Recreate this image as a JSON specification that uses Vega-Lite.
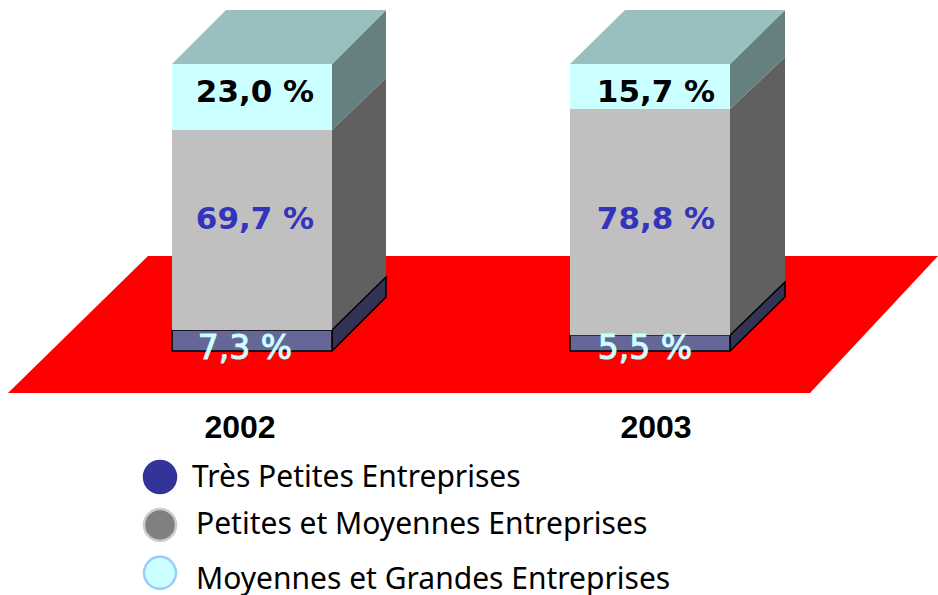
{
"$schema":"https://vega.github.io/schema/vega-lite/v6.json",
"width":938,"height":595,"padding":0,"autosize":{"type":"none"},
"background":"white",
"config":{"view":{"stroke":null}},
"datasets":{
"segments":[
{"year":"2002","category":"Très Petites Entreprises","order":1,"value":7.3,"label":"7,3 %","labelAt":0.8,"left":172,"right":332,"center":245},
{"year":"2002","category":"Petites et Moyennes Entreprises","order":2,"value":69.7,"label":"69,7 %","labelAt":45.5,"left":172,"right":332,"center":255},
{"year":"2002","category":"Moyennes et Grandes Entreprises","order":3,"value":23.0,"label":"23,0 %","labelAt":89.9,"left":172,"right":332,"center":255},
{"year":"2003","category":"Très Petites Entreprises","order":1,"value":5.5,"label":"5,5 %","labelAt":0.8,"left":570,"right":730,"center":645},
{"year":"2003","category":"Petites et Moyennes Entreprises","order":2,"value":78.8,"label":"78,8 %","labelAt":45.8,"left":570,"right":730,"center":656},
{"year":"2003","category":"Moyennes et Grandes Entreprises","order":3,"value":15.7,"label":"15,7 %","labelAt":89.9,"left":570,"right":730,"center":656}
],
"faces":[
{"face":"floor","tone":"floor","x":8,"y":-14.6,"y2":-14.6},
{"face":"floor","tone":"floor","x":148,"y":-14.6,"y2":33.1},
{"face":"floor","tone":"floor","x":810,"y":-14.6,"y2":33.1},
{"face":"floor","tone":"floor","x":938,"y":33.1,"y2":33.1},
{"face":"s02a","tone":"tpe_side","x":332,"y":0,"y2":7.3},
{"face":"s02a","tone":"tpe_side","x":386,"y":18.8,"y2":25.8},
{"face":"s02b","tone":"pme_side","x":332,"y":7.3,"y2":77},
{"face":"s02b","tone":"pme_side","x":386,"y":25.8,"y2":95.1},
{"face":"s02c","tone":"mge_side","x":332,"y":77,"y2":100},
{"face":"s02c","tone":"mge_side","x":386,"y":95.1,"y2":118.8},
{"face":"t02","tone":"mge_top","x":172,"y":100,"y2":100},
{"face":"t02","tone":"mge_top","x":226,"y":100,"y2":118.8},
{"face":"t02","tone":"mge_top","x":332,"y":100,"y2":118.8},
{"face":"t02","tone":"mge_top","x":386,"y":118.8,"y2":118.8},
{"face":"s03a","tone":"tpe_side","x":730,"y":0,"y2":5.5},
{"face":"s03a","tone":"tpe_side","x":785,"y":18.8,"y2":24},
{"face":"s03b","tone":"pme_side","x":730,"y":5.5,"y2":84.3},
{"face":"s03b","tone":"pme_side","x":785,"y":24,"y2":102.4},
{"face":"s03c","tone":"mge_side","x":730,"y":84.3,"y2":100},
{"face":"s03c","tone":"mge_side","x":785,"y":102.4,"y2":118.8},
{"face":"t03","tone":"mge_top","x":570,"y":100,"y2":100},
{"face":"t03","tone":"mge_top","x":625,"y":100,"y2":118.8},
{"face":"t03","tone":"mge_top","x":730,"y":100,"y2":118.8},
{"face":"t03","tone":"mge_top","x":785,"y":118.8,"y2":118.8}
],
"years":[{"year":"2002","x":240,"y":-26.8},{"year":"2003","x":656,"y":-26.8}],
"legend":[
{"category":"Très Petites Entreprises","mx":160,"my":-43.9,"tx":192,"ty":-44.2},
{"category":"Petites et Moyennes Entreprises","mx":160,"my":-60.6,"tx":196,"ty":-60.7},
{"category":"Moyennes et Grandes Entreprises","mx":160,"my":-77.3,"tx":196,"ty":-79.8}
]
},
"layer":[
{"data":{"name":"faces"},"transform":[{"filter":"datum.face==='floor'"}],
 "mark":{"type":"area","orient":"vertical","fill":"#ff0000"},
 "encoding":{
  "x":{"field":"x","type":"quantitative","scale":{"domain":[0,938],"nice":false,"zero":false},"axis":null},
  "y":{"field":"y","type":"quantitative","scale":{"domain":[-85.02,122.3],"nice":false,"zero":false},"axis":null},
  "y2":{"field":"y2"}}},
{"data":{"name":"faces"},"transform":[{"filter":"datum.face!=='floor'"}],
 "mark":{"type":"area","orient":"vertical"},
 "encoding":{
  "x":{"field":"x","type":"quantitative","axis":null},
  "y":{"field":"y","type":"quantitative","axis":null},
  "y2":{"field":"y2"},
  "detail":{"field":"face"},
  "color":{"field":"tone","type":"nominal","legend":null,"scale":{"domain":["tpe_side","pme_side","mge_side","mge_top"],"range":["#333355","#606060","#668080","#99C0BE"]}}}},
{"data":{"name":"faces"},"transform":[{"filter":"datum.tone==='tpe_side'"}],
 "mark":{"type":"area","orient":"vertical","fillOpacity":0,"stroke":"#000000","strokeWidth":1.5},
 "encoding":{
  "x":{"field":"x","type":"quantitative","axis":null},
  "y":{"field":"y","type":"quantitative","axis":null},
  "y2":{"field":"y2"},
  "detail":{"field":"face"}}},
{"data":{"name":"segments"},
 "transform":[{"stack":"value","groupby":["year"],"sort":[{"field":"order","order":"ascending"}],"as":["start","end"]}],
 "mark":{"type":"rect"},
 "encoding":{
  "x":{"field":"left","type":"quantitative","axis":null},
  "x2":{"field":"right"},
  "y":{"field":"start","type":"quantitative","axis":null},
  "y2":{"field":"end"},
  "fill":{"field":"category","type":"nominal","legend":null,"scale":{"domain":["Très Petites Entreprises","Petites et Moyennes Entreprises","Moyennes et Grandes Entreprises"],"range":["#666699","#C0C0C0","#CCFFFF"]}},
  "stroke":{"field":"category","type":"nominal","legend":null,"scale":{"domain":["Très Petites Entreprises","Petites et Moyennes Entreprises","Moyennes et Grandes Entreprises"],"range":["#000000","transparent","transparent"]}},
  "strokeWidth":{"value":1.5}}},
{"data":{"name":"segments"},"transform":[{"filter":"datum.order>1"}],
 "mark":{"type":"text","font":"DejaVu Sans","fontWeight":"bold","fontSize":31,"align":"center","baseline":"middle"},
 "encoding":{
  "x":{"field":"center","type":"quantitative","axis":null},
  "y":{"field":"labelAt","type":"quantitative","axis":null},
  "text":{"field":"label"},
  "color":{"field":"category","type":"nominal","legend":null,"scale":{"domain":["Petites et Moyennes Entreprises","Moyennes et Grandes Entreprises"],"range":["#3333BB","#000000"]}}}},
{"data":{"name":"segments"},"transform":[{"filter":"datum.order===1"}],
 "mark":{"type":"text","font":"DejaVu Sans","fontSize":33,"align":"center","baseline":"middle","color":"#CCFFFF","stroke":"#CCFFFF","strokeWidth":1},
 "encoding":{
  "x":{"field":"center","type":"quantitative","axis":null},
  "y":{"field":"labelAt","type":"quantitative","axis":null},
  "text":{"field":"label"}}},
{"data":{"name":"years"},
 "mark":{"type":"text","font":"Liberation Sans","fontWeight":"bold","fontSize":32,"align":"center","baseline":"middle","color":"#000000"},
 "encoding":{
  "x":{"field":"x","type":"quantitative","axis":null},
  "y":{"field":"y","type":"quantitative","axis":null},
  "text":{"field":"year"}}},
{"data":{"name":"legend"},
 "mark":{"type":"point","filled":true,"shape":"circle","size":1024,"opacity":1,"strokeWidth":2.5},
 "encoding":{
  "x":{"field":"mx","type":"quantitative","axis":null},
  "y":{"field":"my","type":"quantitative","axis":null},
  "fill":{"field":"category","type":"nominal","legend":null,"scale":{"domain":["Très Petites Entreprises","Petites et Moyennes Entreprises","Moyennes et Grandes Entreprises"],"range":["#333399","#808080","#CCFFFF"]}},
  "stroke":{"field":"category","type":"nominal","legend":null,"scale":{"domain":["Très Petites Entreprises","Petites et Moyennes Entreprises","Moyennes et Grandes Entreprises"],"range":["#333399","#CCCCCC","#99CCFF"]}}}},
{"data":{"name":"legend"},
 "mark":{"type":"text","font":"Noto Sans","fontSize":30,"align":"left","baseline":"middle","color":"#000000"},
 "encoding":{
  "x":{"field":"tx","type":"quantitative","axis":null},
  "y":{"field":"ty","type":"quantitative","axis":null},
  "text":{"field":"category"}}}
],
"resolve":{"scale":{"color":"independent","fill":"independent","stroke":"independent"}}
}
